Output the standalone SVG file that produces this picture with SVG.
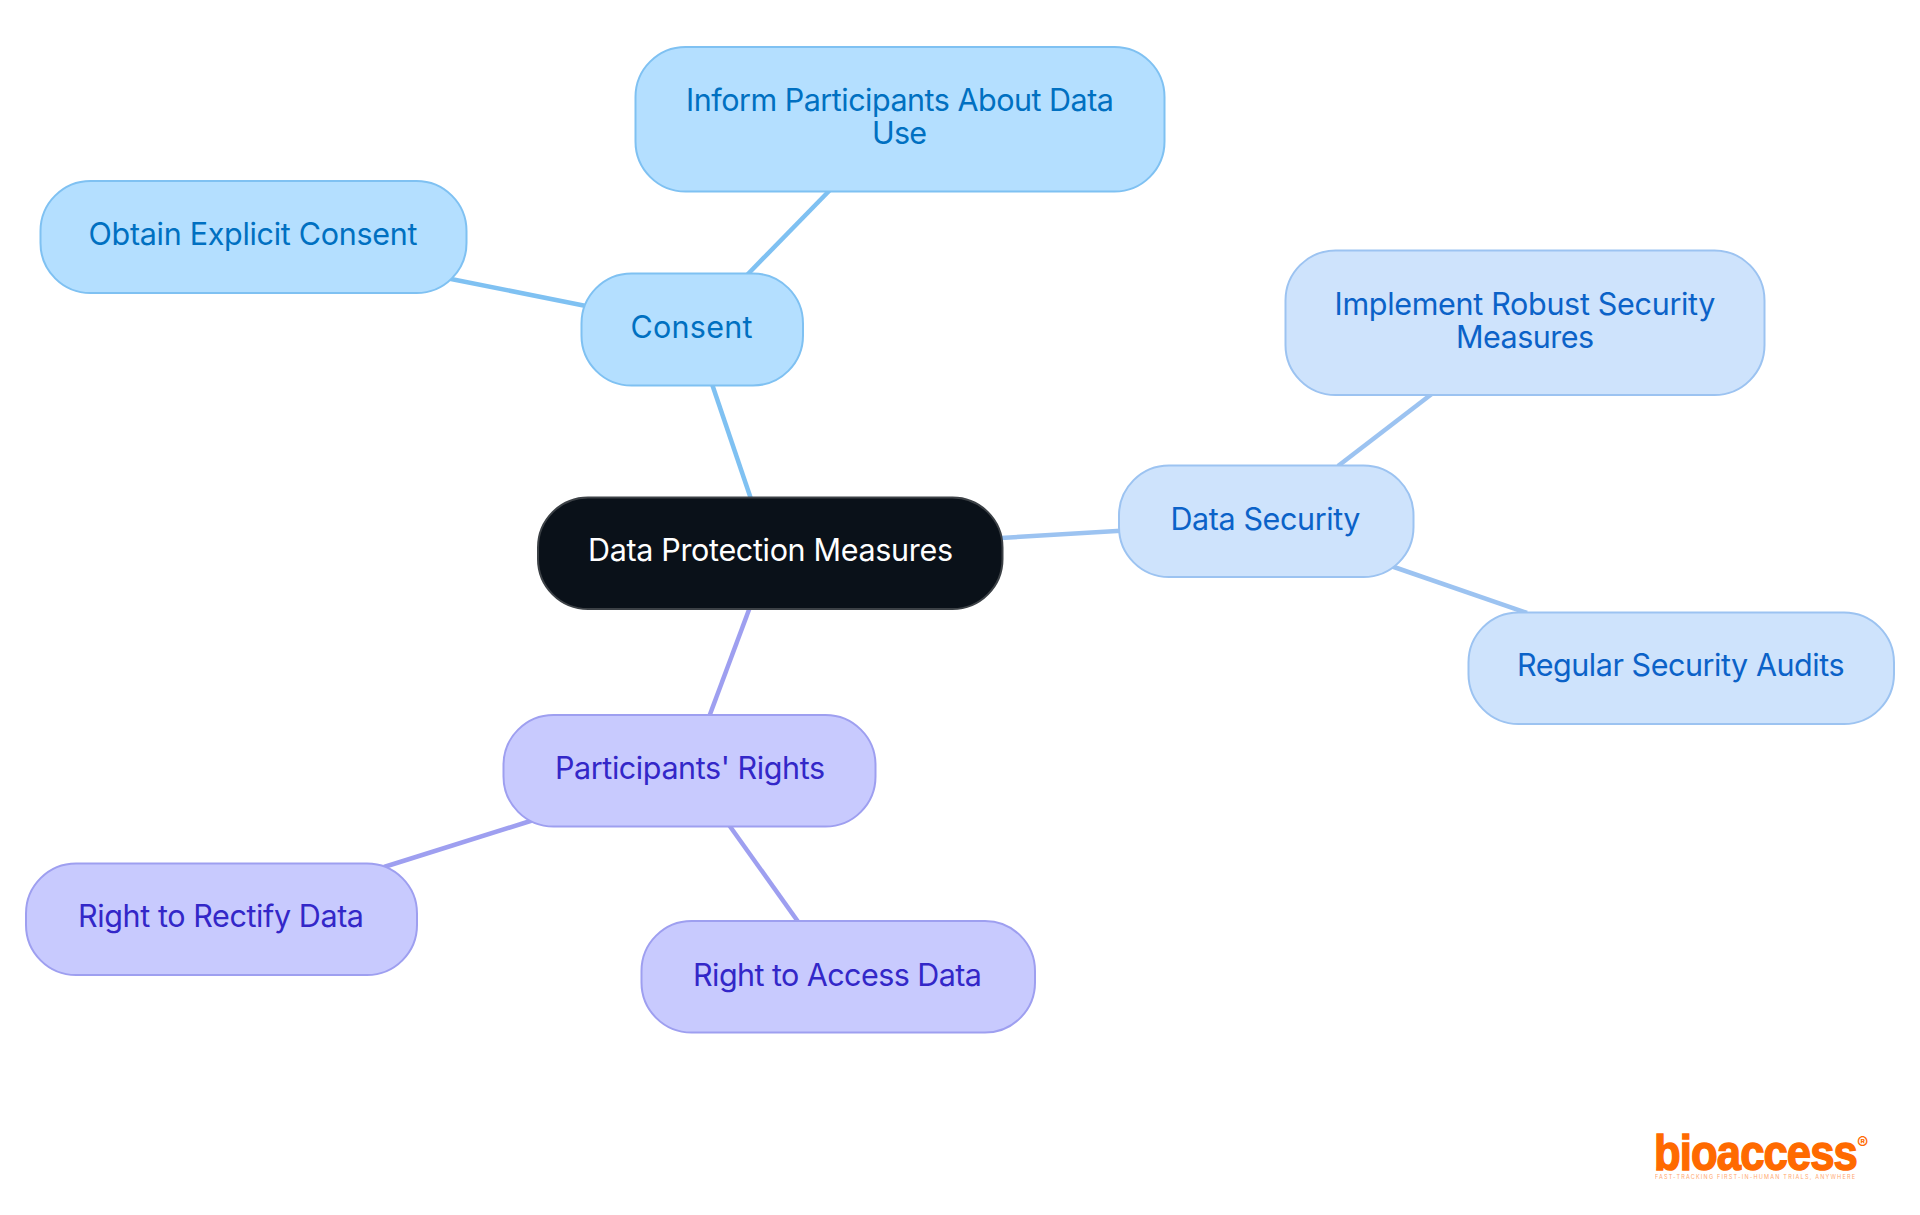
<svg xmlns="http://www.w3.org/2000/svg" width="1920" height="1215" viewBox="0 0 1920 1215">
<style>
text{font-family:"Inter","Noto Sans","Liberation Sans",sans-serif;font-size:30.500px;text-anchor:start}
.box{stroke-width:2}
.a rect{fill:#b4dfff;stroke:#7fc1f2}.a text{fill:#0070c1}
.b rect{fill:#cee3fc;stroke:#9cc3f1}.b text{fill:#0b62c8}
.c rect{fill:#c8cafe;stroke:#9e9ff0}.c text{fill:#3327c8}
.r rect{fill:#0a1119;stroke:#3c4146}.r text{fill:#fff}
#connectors line{stroke-width:4.5;fill:none}
.la{stroke:#7fc1f2}.lb{stroke:#9cc3f1}.lc{stroke:#9e9ff0}
#logo text{fill:#ff6a00}
</style>
<rect width="1920" height="1215" fill="#fff"/>
<g id="connectors">
<line class="la" x1="712" y1="384" x2="751" y2="499"/>
<line class="la" x1="830" y1="190" x2="747" y2="275"/>
<line class="la" x1="446" y1="278" x2="586" y2="306"/>
<line class="lb" x1="1001" y1="538" x2="1121" y2="530.7"/>
<line class="lb" x1="1433" y1="393" x2="1338" y2="466"/>
<line class="lb" x1="1391" y1="566" x2="1527" y2="613"/>
<line class="lc" x1="750" y1="607" x2="709" y2="717"/>
<line class="lc" x1="532" y1="820.5" x2="384" y2="867"/>
<line class="lc" x1="729" y1="825" x2="799" y2="923"/>
</g>
<g id="root" class="r"><rect class="box" x="538" y="497.500" width="464.500" height="111.500" rx="50"/><text x="588" y="560.500" textLength="365" lengthAdjust="spacing">Data Protection Measures</text></g>
<g id="consent" class="a"><rect class="box" x="581.500" y="273.500" width="221.500" height="112" rx="50"/><text x="630.500" y="337.500" textLength="122" lengthAdjust="spacing">Consent</text></g>
<g id="inform" class="a"><rect class="box" x="635.500" y="47" width="529" height="144.500" rx="50"/><text x="686" y="110.500" textLength="428" lengthAdjust="spacing">Inform Participants About Data</text><text x="872" y="144" textLength="55" lengthAdjust="spacing">Use</text></g>
<g id="obtain" class="a"><rect class="box" x="40.500" y="181" width="426" height="112" rx="50"/><text x="88.500" y="245" textLength="329" lengthAdjust="spacing">Obtain Explicit Consent</text></g>
<g id="security" class="b"><rect class="box" x="1119" y="465.500" width="294.500" height="111.500" rx="50"/><text x="1170.500" y="529.500" textLength="190" lengthAdjust="spacing">Data Security</text></g>
<g id="implement" class="b"><rect class="box" x="1285.500" y="250.500" width="479" height="144.500" rx="50"/><text x="1334.500" y="314.500" textLength="381" lengthAdjust="spacing">Implement Robust Security</text><text x="1456" y="348" textLength="138" lengthAdjust="spacing">Measures</text></g>
<g id="audits" class="b"><rect class="box" x="1468.500" y="612.500" width="425.500" height="111.500" rx="50"/><text x="1517" y="676" textLength="327.500" lengthAdjust="spacing">Regular Security Audits</text></g>
<g id="rights" class="c"><rect class="box" x="503.500" y="715" width="372" height="111.500" rx="50"/><text x="555" y="778.500" textLength="270" lengthAdjust="spacing">Participants' Rights</text></g>
<g id="rectify" class="c"><rect class="box" x="26" y="863.500" width="391" height="111.500" rx="50"/><text x="78" y="926.500" textLength="286" lengthAdjust="spacing">Right to Rectify Data</text></g>
<g id="access" class="c"><rect class="box" x="641.500" y="921" width="393.500" height="111.500" rx="50"/><text x="693" y="985.500" textLength="289" lengthAdjust="spacing">Right to Access Data</text></g>
<g id="logo">
<text x="1654" y="1170" textLength="203" lengthAdjust="spacingAndGlyphs" style="font-family:'Liberation Sans',sans-serif;font-size:50px;font-weight:700;stroke:#ff6a00;stroke-width:1.500;letter-spacing:-1px">bioaccess</text>
<text x="1857" y="1149" style="font-size:17px;font-weight:700">®</text>
<text x="1655" y="1179" textLength="200" lengthAdjust="spacing" style="font-size:5.500px;opacity:.6">FAST-TRACKING FIRST-IN-HUMAN TRIALS, ANYWHERE</text>
</g>
</svg>
